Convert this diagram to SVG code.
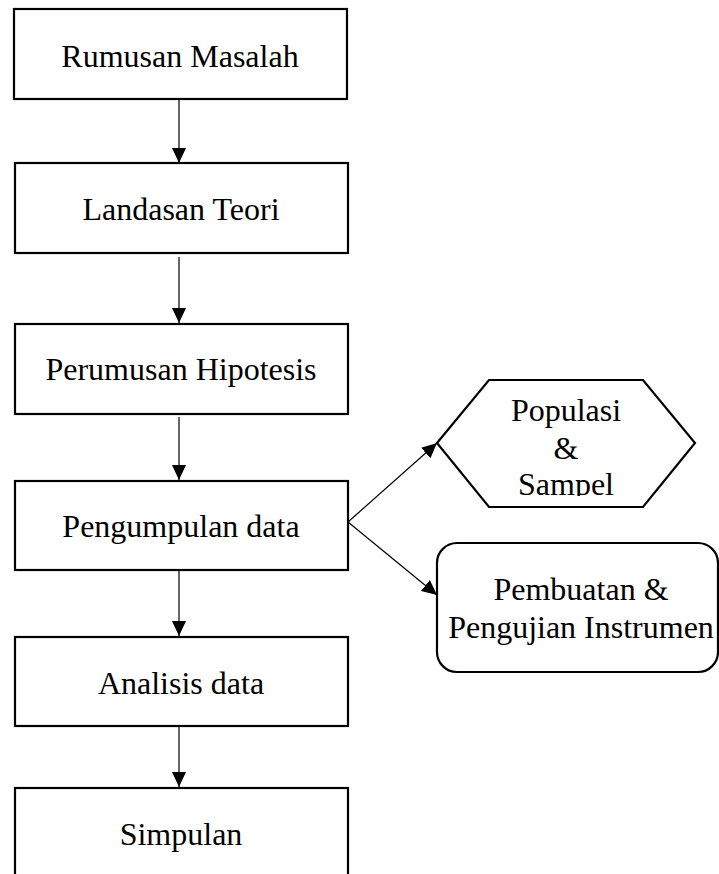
<svg xmlns="http://www.w3.org/2000/svg" width="719" height="874" viewBox="0 0 719 874">
<style>
.box{fill:#fff;stroke:#000;stroke-width:2.2}
.t{font-family:"Liberation Serif","Times New Roman",serif;font-size:32px;fill:#000;text-anchor:middle}
.c{stroke:#000;stroke-width:1.2;fill:none}
</style>
<defs>
<marker id="ah" markerUnits="userSpaceOnUse" markerWidth="16" markerHeight="14" refX="15" refY="7" orient="auto">
<path d="M0,0 L15,7 L0,14 Z" fill="#000"/>
</marker>
<clipPath id="hexclip"><rect x="430" y="375" width="280" height="121"/></clipPath>
</defs>
<rect width="719" height="874" fill="#fff"/>
<g id="connectors">
<line class="c" x1="179" y1="99" x2="179" y2="163" marker-end="url(#ah)"/>
<line class="c" x1="179" y1="257" x2="179" y2="323" marker-end="url(#ah)"/>
<line class="c" x1="179" y1="417" x2="179" y2="480" marker-end="url(#ah)"/>
<line class="c" x1="179" y1="570" x2="179" y2="636" marker-end="url(#ah)"/>
<line class="c" x1="179" y1="724" x2="179" y2="787" marker-end="url(#ah)"/>
<line class="c" x1="348" y1="522" x2="437" y2="443" marker-end="url(#ah)"/>
<line class="c" x1="348" y1="522" x2="437" y2="595" marker-end="url(#ah)"/>
</g>
<g id="rumusan-masalah">
<rect class="box" x="14" y="9" width="333" height="90"/>
<text class="t" x="180" y="67">Rumusan Masalah</text>
</g>
<g id="landasan-teori">
<rect class="box" x="15" y="163" width="333" height="90"/>
<text class="t" x="181" y="220">Landasan Teori</text>
</g>
<g id="perumusan-hipotesis">
<rect class="box" x="15" y="324" width="333" height="90"/>
<text class="t" x="181" y="380">Perumusan Hipotesis</text>
</g>
<g id="pengumpulan-data">
<rect class="box" x="15" y="481" width="333" height="89"/>
<text class="t" x="181" y="537">Pengumpulan data</text>
</g>
<g id="analisis-data">
<rect class="box" x="15" y="637" width="333" height="89"/>
<text class="t" x="181" y="694">Analisis data</text>
</g>
<g id="simpulan">
<rect class="box" x="15" y="788" width="333" height="100"/>
<text class="t" x="181" y="845">Simpulan</text>
</g>
<g id="populasi-sampel">
<polygon class="box" points="437,443 489,380 643,380 695,443 643,507 489,507"/>
<g clip-path="url(#hexclip)">
<text class="t" x="566" y="421">Populasi</text>
<text class="t" x="566" y="459">&amp;</text>
<text class="t" x="566" y="495">Sampel</text>
</g>
</g>
<g id="pembuatan-pengujian">
<rect class="box" x="437" y="543" width="281" height="129" rx="20" ry="20"/>
<text class="t" x="581" y="600">Pembuatan &amp;</text>
<text class="t" x="581" y="638">Pengujian Instrumen</text>
</g>
</svg>
